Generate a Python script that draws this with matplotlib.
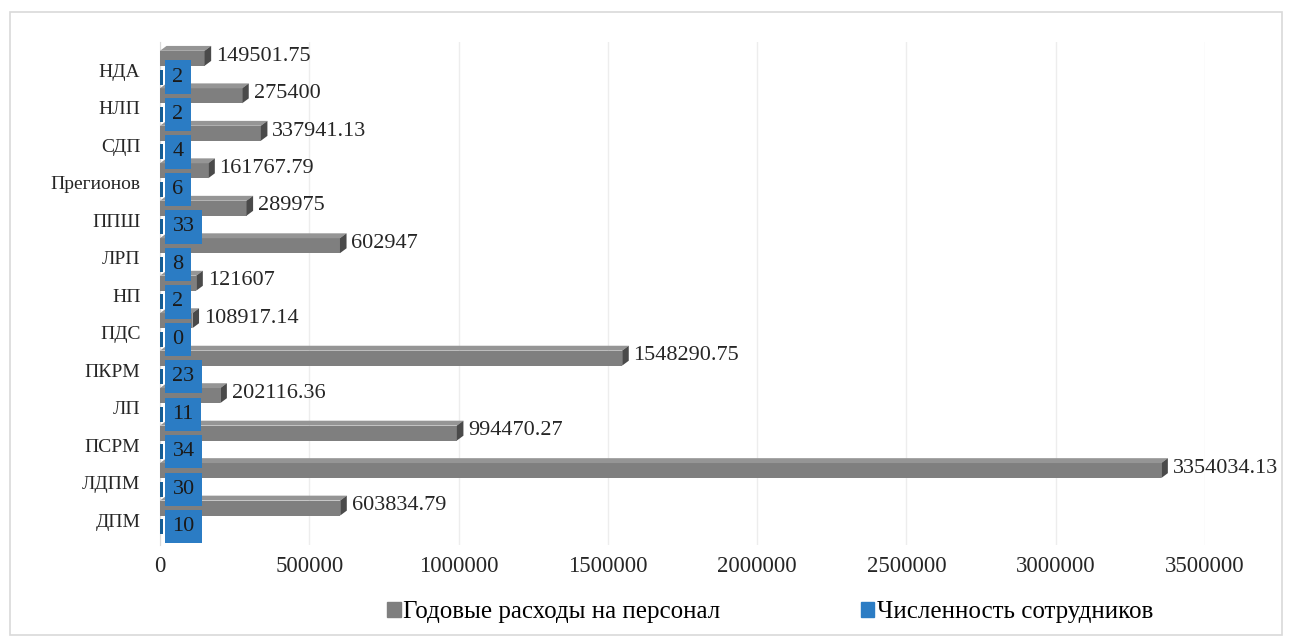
import numpy as np
import matplotlib
matplotlib.use("Agg")
import matplotlib.pyplot as plt
from matplotlib.patches import Polygon, Rectangle

plt.rcParams['font.family'] = ['Liberation Serif', 'DejaVu Serif']

# categories from bottom to top
categories = ['ДПМ', 'ЛДПМ', 'ПСРМ', 'ЛП', 'ПКРМ', 'ПДС', 'НП', 'ЛРП',
              'ППШ', 'Прегионов', 'СДП', 'НЛП', 'НДА']
expenses = [603834.79, 3354034.13, 994470.27, 202116.36, 1548290.75, 108917.14,
            121607, 602947, 289975, 161767.79, 337941.13, 275400, 149501.75]
expense_labels = ['603834.79', '3354034.13', '994470.27', '202116.36', '1548290.75',
                  '108917.14', '121607', '602947', '289975', '161767.79',
                  '337941.13', '275400', '149501.75']
staff = [10, 30, 34, 11, 23, 0, 2, 8, 33, 6, 4, 2, 2]
xticks = [0, 500000, 1000000, 1500000, 2000000, 2500000, 3000000, 3500000]

grey = '#7f7f7f'
grey_side = '#4a4a4a'
grey_top = '#959595'
blue = '#2b7cc4'
blue_dark = '#175d93'

fig = plt.figure(figsize=(12.9, 6.43), dpi=100)
fig.patches.append(Rectangle((10 / 1290, 8 / 643), 1272 / 1290, 623 / 643,
                             transform=fig.transFigure, fill=False,
                             edgecolor='#d9d9d9', linewidth=1.2))
ax = fig.add_axes([0.124, 0.1524, 0.810, 0.782])

y = np.arange(len(categories))
gy = y + 0.32
by = y - 0.18
h = 0.40
dx = 22000   # depth in x units
dy = 0.13    # depth in category units

ax.barh(gy, expenses, height=h, color=grey, zorder=3)
for yy, v in zip(gy, expenses):
    # top face
    ax.add_patch(Polygon([(0, yy + h / 2), (v, yy + h / 2),
                          (v + dx, yy + h / 2 + dy), (dx, yy + h / 2 + dy)],
                         closed=True, facecolor=grey_top, edgecolor='none', zorder=3))
    # right face
    ax.add_patch(Polygon([(v, yy - h / 2), (v + dx, yy - h / 2 + dy),
                          (v + dx, yy + h / 2 + dy), (v, yy + h / 2)],
                         closed=True, facecolor=grey_side, edgecolor='none', zorder=3))

for yy, v, lab in zip(gy, expenses, expense_labels):
    ax.text(v + dx + 16000, yy + 0.06, lab, va='center', ha='left',
            fontsize=16, color='#262626', zorder=5)

ax.barh(by, staff, height=h, color=blue, zorder=3)
for yy in by:
    ax.add_patch(Rectangle((0, yy - h / 2), 9000, h, facecolor=blue_dark,
                           edgecolor='none', zorder=3))

for yy, s in zip(by, staff):
    ax.text(42000, yy, str(s), va='center', ha='left', fontsize=16,
            color='#1a1a1a', zorder=6,
            bbox=dict(boxstyle='square,pad=0.32', facecolor=blue, edgecolor='none'))

ax.set_xlim(0, 3500000)
ax.set_ylim(-0.667, 12.75)
ax.set_yticks(y)
ax.set_yticklabels(categories, fontsize=14, color='#262626')
ax.set_xticks(xticks)
ax.set_xticklabels([str(t) for t in xticks], fontsize=16.5, color='#262626')
ax.tick_params(axis='y', length=0, pad=14)
ax.tick_params(axis='x', length=0, pad=8)
ax.grid(axis='x', color='#ededed', linewidth=1, zorder=0)
for sp in ['top', 'right', 'bottom']:
    ax.spines[sp].set_visible(False)
ax.spines['left'].set_color('#d9d9d9')

h1 = Rectangle((0, 0), 1, 1, color=grey)
h2 = Rectangle((0, 0), 1, 1, color=blue)
fig.legend([h1, h2], ['Годовые расходы на персонал', 'Численность сотрудников'],
           loc='center', bbox_to_anchor=(0.597, 0.048), ncol=2, frameon=False,
           fontsize=18, handlelength=0.55, handleheight=0.55, handletextpad=0.1,
           columnspacing=5.6, borderpad=0)

fig.savefig('out.png', dpi=100)
